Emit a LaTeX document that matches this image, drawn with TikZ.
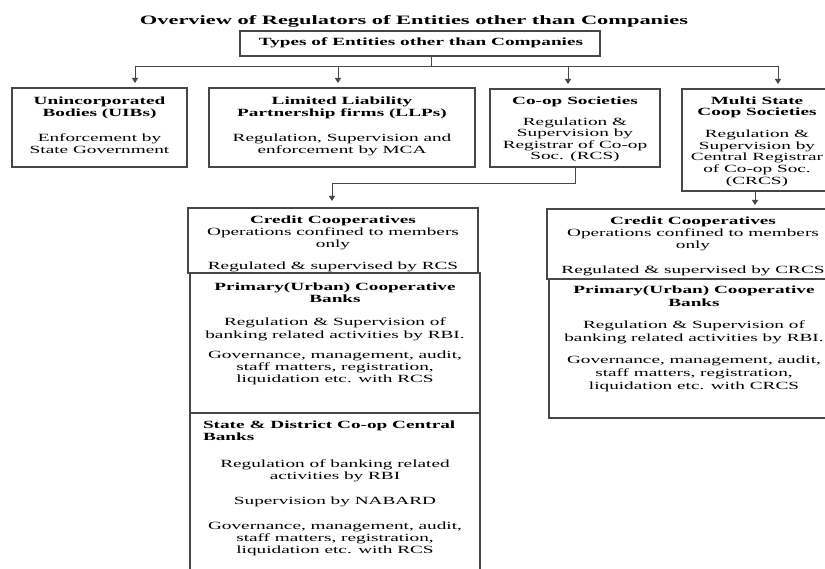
\documentclass[tikz,border=0pt]{standalone}
\usepackage{fontspec}
\setmainfont{Liberation Serif}[FakeStretch=1.75]
\usetikzlibrary{arrows.meta,positioning,calc}

\begin{document}
\begin{tikzpicture}[x=1pt,y=-1pt,
    font=\fontsize{11}{12}\selectfont]
    \tikzstyle{every node}=[inner sep=0pt, outer sep=0pt]
    \tikzstyle{box}=[draw=black!72, line width=1.3pt, anchor=north west]
    \tikzstyle{txt}=[anchor=north, align=center]
    \tikzstyle{line}=[draw=black!72, line width=0.9pt]
    \tikzstyle{arr}=[line, -{Triangle[length=5pt,width=6pt]}]

    \clip (0,0) rectangle (825,569);
    \useasboundingbox (0,0) rectangle (825,569);
    \fill[white] (0,0) rectangle (825,569);

    % title and top box
    \node[anchor=base, font=\fontsize{12.8}{14}\selectfont\bfseries] (title) at (414,24.5)
        {Overview of Regulators of Entities other than Companies};
    \node[box, minimum width=360, minimum height=25] (types) at (240,31) {};
    \node[anchor=base, font=\fontsize{11}{12}\selectfont\bfseries] (typest) at (421,46)
        {Types of Entities other than Companies};

    % first row
    \node[box, minimum width=175, minimum height=79] (uib) at (12,88) {};
    \node[box, minimum width=266, minimum height=79] (llp) at (209,88) {};
    \node[box, minimum width=170, minimum height=78] (coop) at (490,89) {};
    \node[box, minimum width=170, minimum height=102] (multi) at (682,89) {};

    \node[txt] (uibt) at ([yshift=-8.5]uib.north)
        {\textbf{Unincorporated}\\ \textbf{Bodies (UIBs)}\\[13pt]
         Enforcement by\\ State Government};
    \node[txt] (llpt) at ([yshift=-8.5]llp.north)
        {\textbf{Limited Liability}\\ \textbf{Partnership firms (LLPs)}\\[13pt]
         Regulation, Supervision and\\ enforcement by MCA};
    \node[txt, font=\fontsize{11}{11.3}\selectfont] (coopt) at ([yshift=-7.5]coop.north)
        {\textbf{Co-op Societies}\\[10pt]
         Regulation \&\\ Supervision by\\ Registrar of Co-op\\ Soc. (RCS)};
    \node[txt, font=\fontsize{11}{11.7}\selectfont] (multit) at ([xshift=-10,yshift=-7.5]multi.north)
        {\textbf{Multi State}\\ \textbf{Coop Societies}\\[10pt]
         Regulation \&\\ Supervision by\\ Central Registrar\\ of Co-op Soc.\\ (CRCS)};

    % left column
    \node[box, minimum width=290, minimum height=65] (lcred) at (188,208) {};
    \node[box, minimum width=290, minimum height=140] (lprim) at (190,273) {};
    \node[box, minimum width=290, minimum height=170] (lstate) at (190,413) {};

    \node[txt] (lcredt) at ([yshift=-7.5]lcred.north)
        {\textbf{Credit Cooperatives}\\ Operations confined to members\\ only\\[10pt]
         Regulated \& supervised by RCS};
    \node[txt, font=\fontsize{11}{12.3}\selectfont] (lprimt) at ([yshift=-9.5]lprim.north)
        {\textbf{Primary(Urban) Cooperative}\\ \textbf{Banks}\\[11pt]
         Regulation \& Supervision of\\ banking related activities by RBI.\\[8pt]
         Governance, management, audit,\\ staff matters, registration,\\ liquidation etc. with RCS};
    \node[anchor=north west, align=left] (lstateh) at ([xshift=13,yshift=-7.5]lstate.north west)
        {\textbf{State \& District Co-op Central}\\ \textbf{Banks}};
    \node[txt] (lstatet) at ([yshift=-46.5]lstate.north)
        {Regulation of banking related\\ activities by RBI\\[13pt]
         Supervision by NABARD\\[13pt]
         Governance, management, audit,\\ staff matters, registration,\\ liquidation etc. with RCS};

    % right column
    \node[box, minimum width=292, minimum height=70] (rcred) at (547,209) {};
    \node[box, minimum width=290, minimum height=139] (rprim) at (549,279) {};

    \node[txt] (rcredt) at ([yshift=-7.5]rcred.north)
        {\textbf{Credit Cooperatives}\\ Operations confined to members\\ only\\[13pt]
         Regulated \& supervised by CRCS};
    \node[txt, font=\fontsize{11}{12.8}\selectfont] (rprimt) at ([yshift=-7]rprim.north)
        {\textbf{Primary(Urban) Cooperative}\\ \textbf{Banks}\\[9pt]
         Regulation \& Supervision of\\ banking related activities by RBI.\\[10pt]
         Governance, management, audit,\\ staff matters, registration,\\ liquidation etc. with CRCS};

    % connectors
    \coordinate (bus) at (431,66);
    \coordinate (a1) at (135,66);
    \coordinate (a2) at (338,66);
    \coordinate (a3) at (568,66);
    \coordinate (a4) at (778,66);
    \draw[line] (types.south -| bus) -- (bus);
    \draw[line] (a1) -- (a4);
    \draw[arr, shorten >=5pt] (a1) -- (a1 |- uib.north);
    \draw[arr, shorten >=5pt] (a2) -- (a2 |- llp.north);
    \draw[arr, shorten >=5pt] (a3) -- (a3 |- coop.north);
    \draw[arr, shorten >=5pt] (a4) -- (a4 |- multi.north);

    \coordinate (b1) at (332,183);
    \draw[arr, shorten >=7pt] (coop.south) |- (b1) -- (b1 |- lcred.north);
    \draw[arr, shorten >=4pt] ([xshift=-12]multi.south) -- ([xshift=-12]multi.south |- rcred.north);
\end{tikzpicture}
\end{document}
